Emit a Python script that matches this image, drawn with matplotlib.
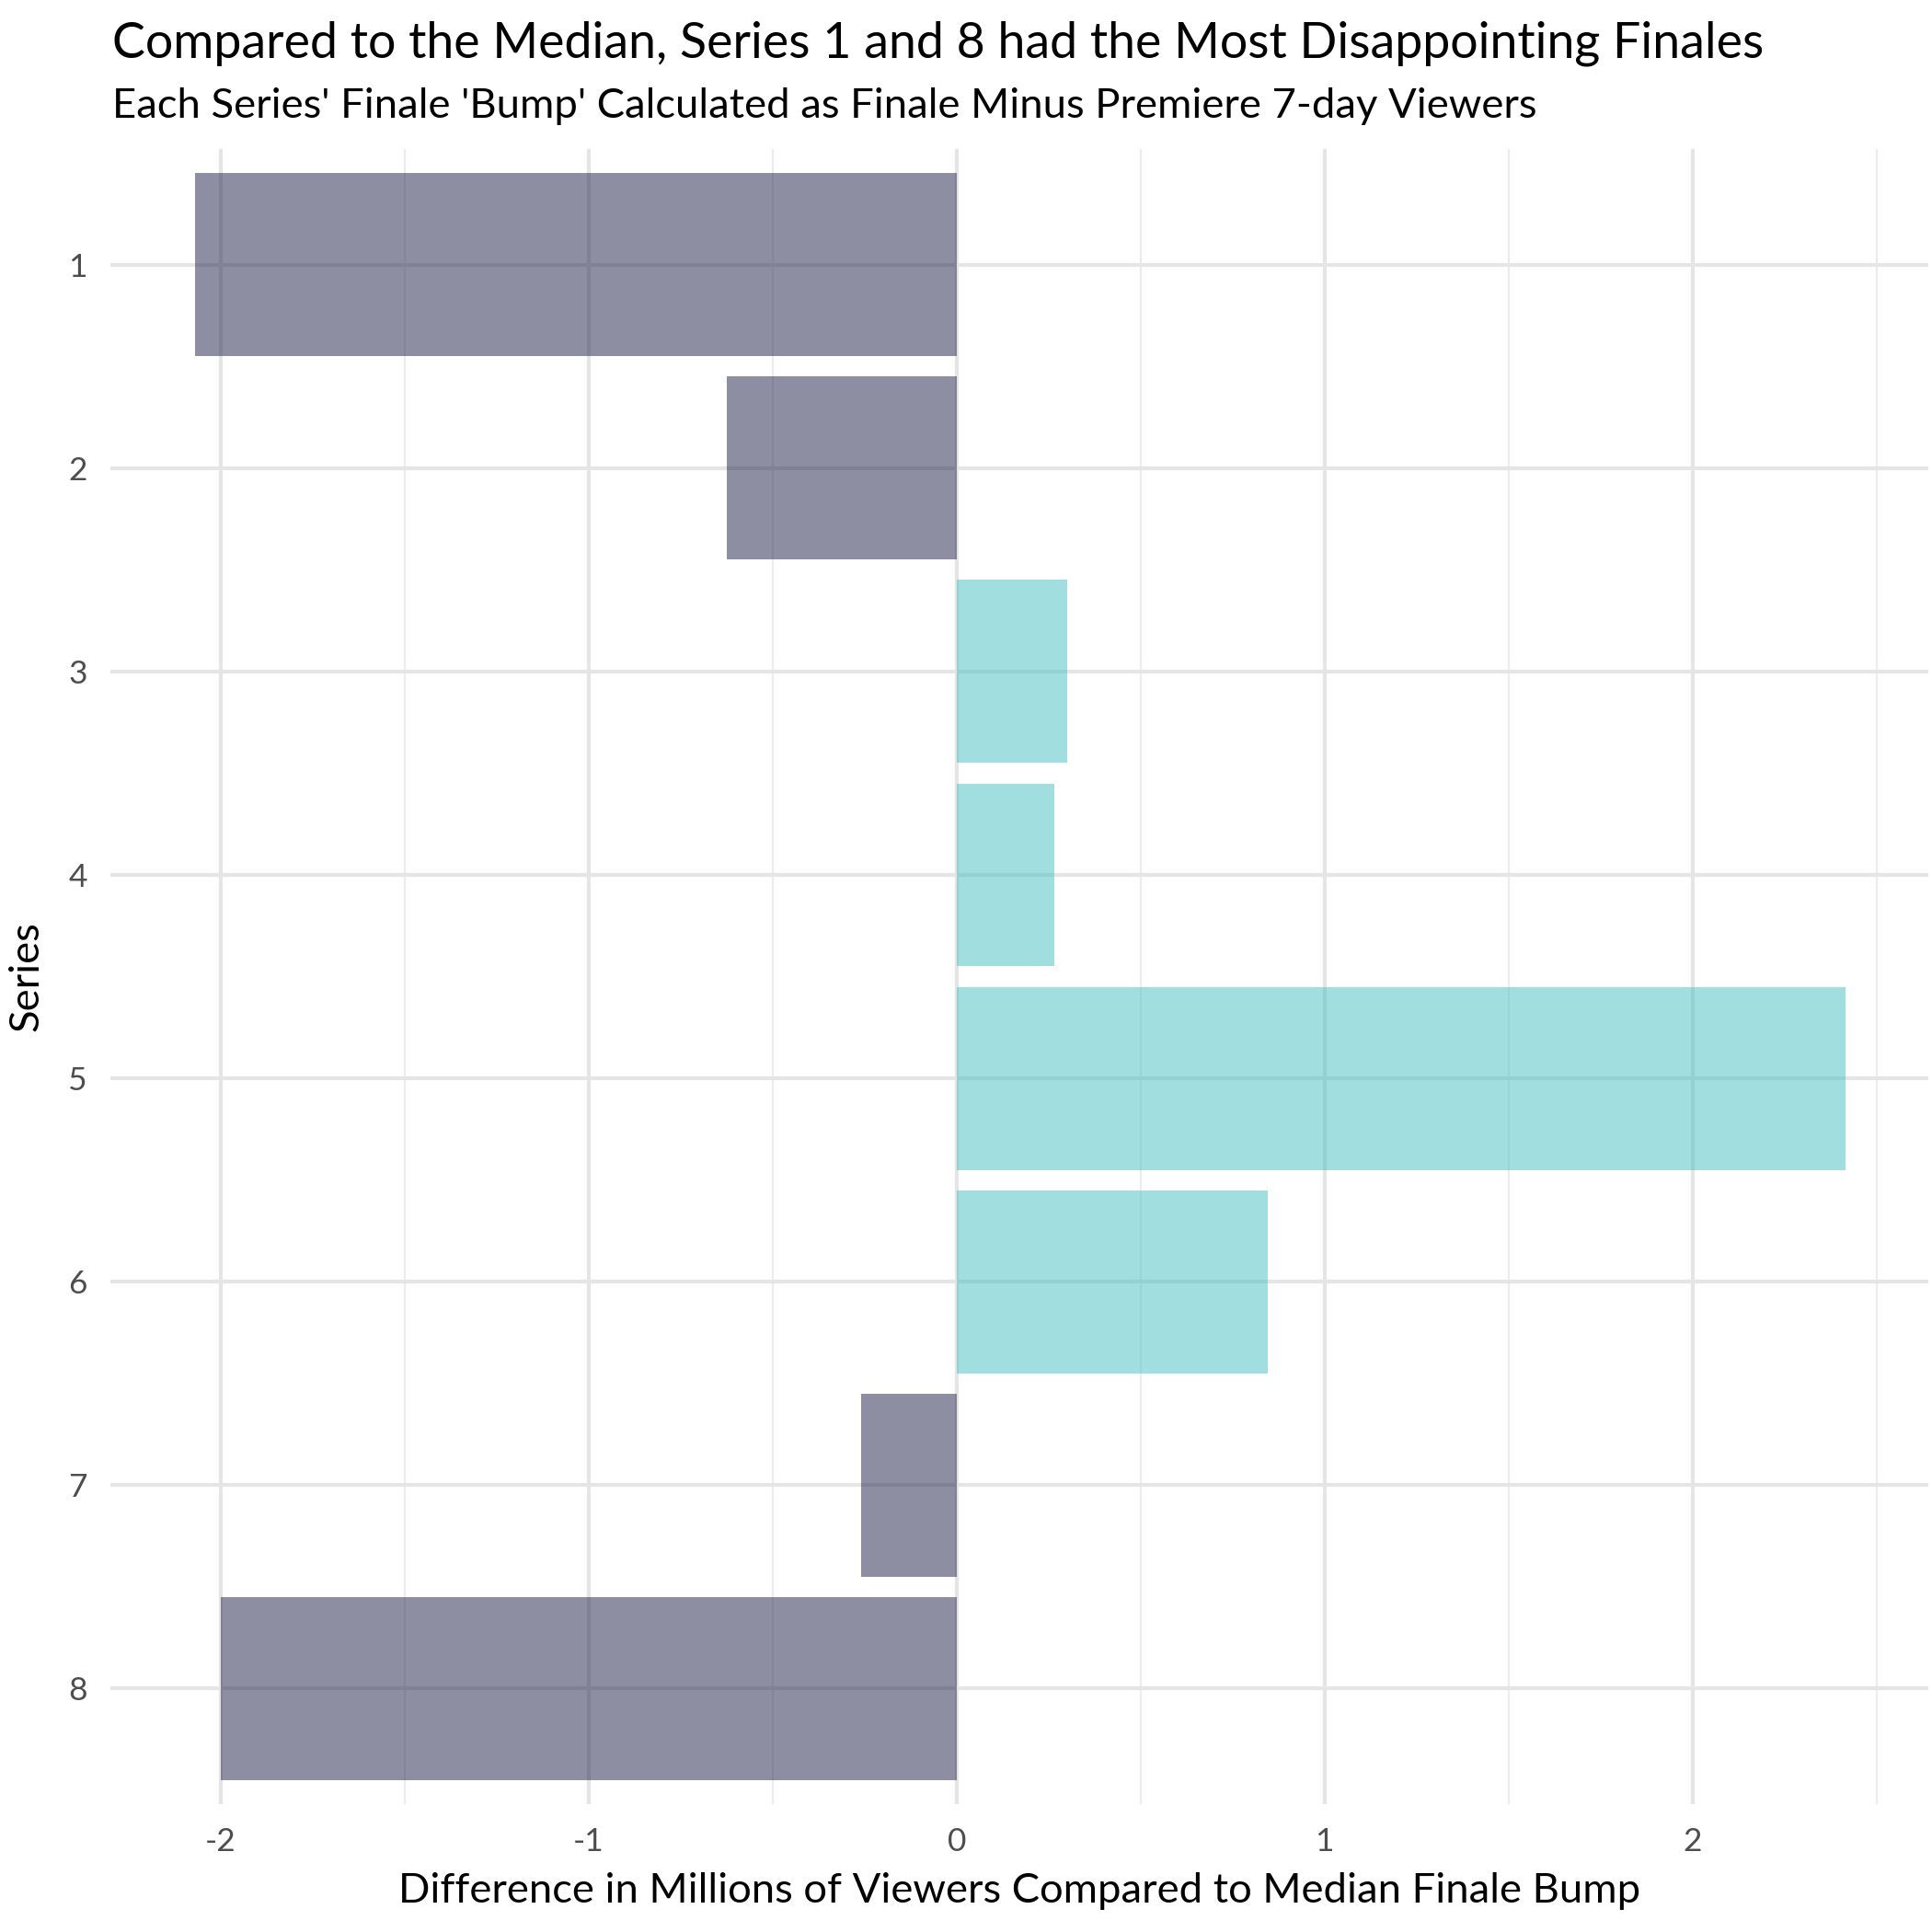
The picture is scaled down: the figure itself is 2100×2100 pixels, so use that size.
import numpy as np
import matplotlib.pyplot as plt

plt.rcParams['font.family'] = ['Lato', 'DejaVu Sans']
plt.rcParams['axes.unicode_minus'] = False

series = [1, 2, 3, 4, 5, 6, 7, 8]
diff = [-2.07, -0.625, 0.30, 0.265, 2.415, 0.845, -0.26, -2.0]

neg_col = '#1f1f47'
pos_col = '#45bfc1'
colors = [pos_col if d > 0 else neg_col for d in diff]

fig = plt.figure(figsize=(7, 7), dpi=300)
ax = fig.add_axes([0.057, 0.066, 0.941, 0.857])

ax.barh(series, diff, height=0.9, color=colors, alpha=0.5, zorder=2)

ax.set_yticks(series)
ax.set_yticklabels([str(s) for s in series])
ax.set_xticks([-2, -1, 0, 1, 2])
ax.set_xticks(np.arange(-1.5, 3, 1), minor=True)
ax.set_xlim(-2.3, 2.64)
ax.set_ylim(8.57, 0.43)
ax.grid(which='major', color='#e5e5e5', lw=1.0, zorder=0)
ax.grid(which='minor', axis='x', color='#ececec', lw=0.5, zorder=0)
for s in ax.spines.values():
    s.set_visible(False)
ax.tick_params(which='both', length=0, labelsize=8.5, labelcolor='#4d4d4d', pad=6)

ax.set_xlabel('Difference in Millions of Viewers Compared to Median Finale Bump', fontsize=10.9, labelpad=4)
ax.set_ylabel('Series', fontsize=10.9, labelpad=6)

fig.text(0.058, 0.970, 'Compared to the Median, Series 1 and 8 had the Most Disappointing Finales',
         fontsize=12.9, ha='left', va='baseline')
fig.text(0.058, 0.939, "Each Series' Finale 'Bump' Calculated as Finale Minus Premiere 7-day Viewers",
         fontsize=10.9, ha='left', va='baseline')

plt.savefig('out.png', dpi=300)
